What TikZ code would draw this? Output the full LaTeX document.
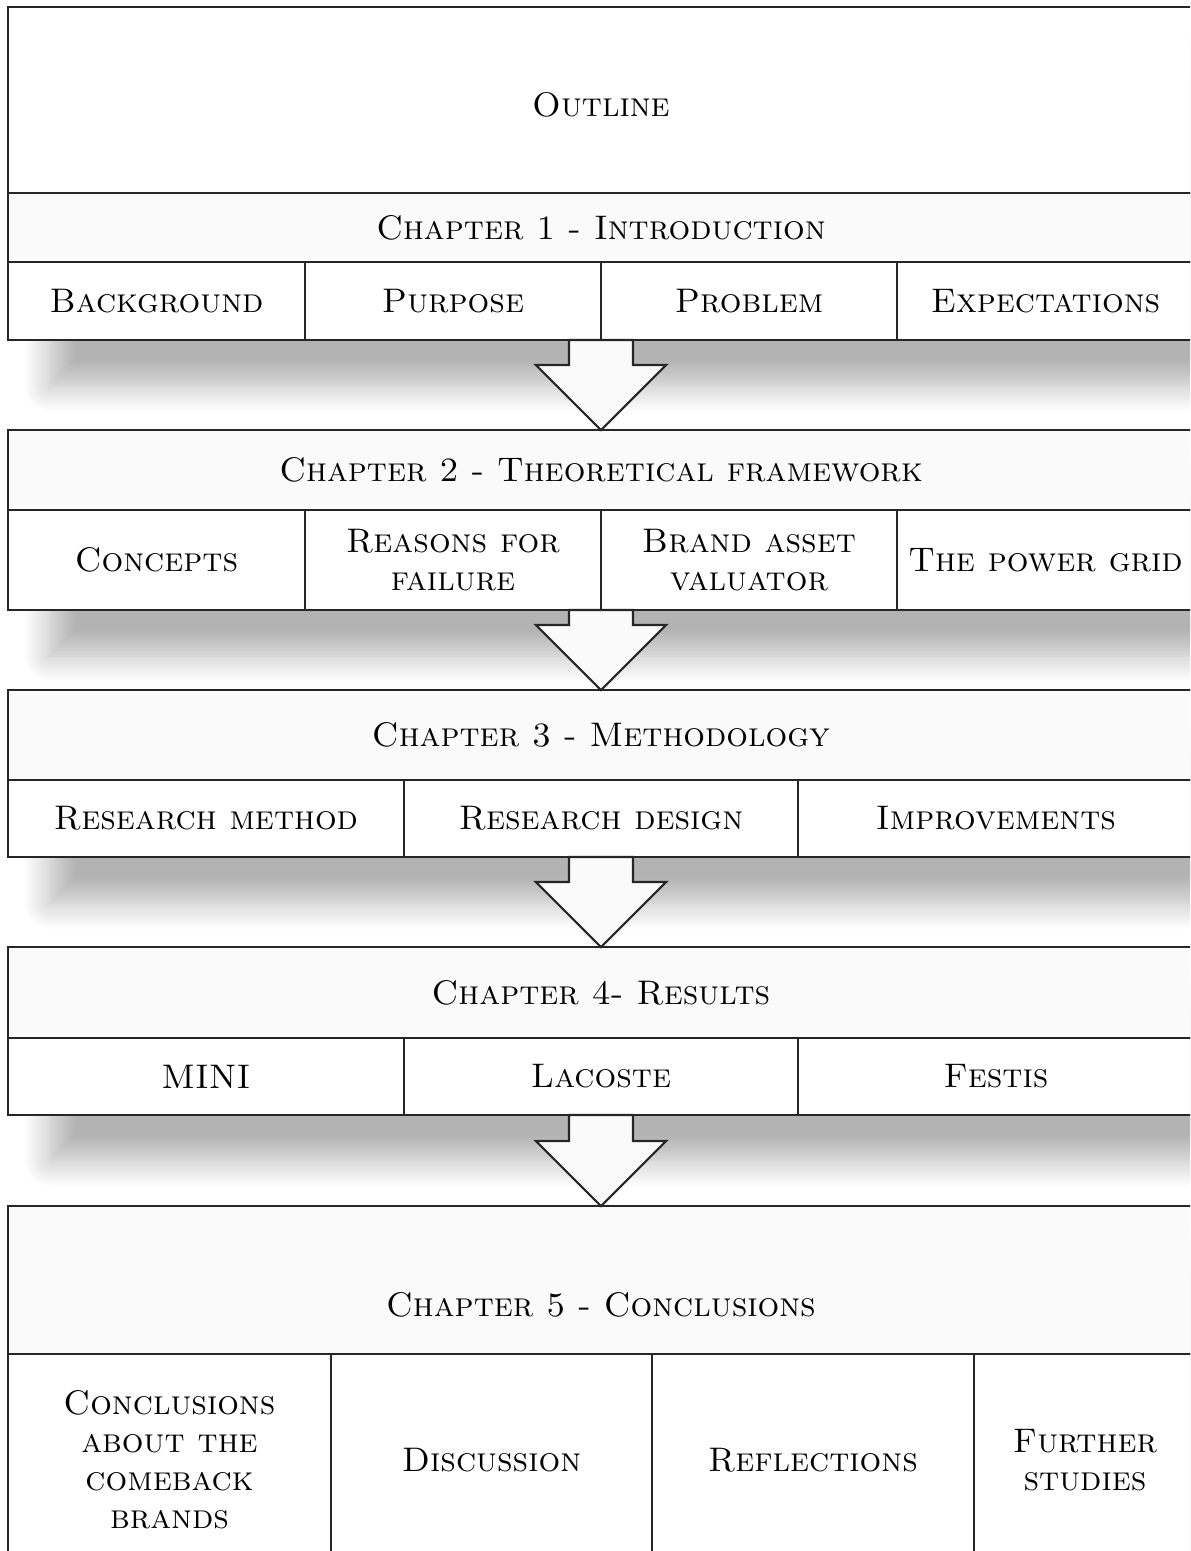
\documentclass[tikz,border=0pt]{standalone}
\usepackage{tikz}
\usetikzlibrary{calc,shadows.blur}
\tikzset{
    box/.style={rectangle,draw=black!85,line width=0.6pt,anchor=north west,inner sep=0pt,outer sep=0pt,align=center,font=\fontsize{9.7}{10.8}\selectfont\scshape},
    titlebox/.style={box,fill=white,minimum width=118.6mm},
    chapterbox/.style={box,fill=black!2,minimum width=118.6mm},
    topicbox/.style={box,fill=white},
    flowarrow/.style={draw=black!85,line width=0.6pt,fill=black!2,line join=miter},
    blockshadow/.style={fill=white,blur shadow={shadow xshift=4.2mm,shadow yshift=-4.6mm,shadow blur radius=2.6mm,shadow blur steps=12,shadow opacity=30}},
}

\begin{document}
\begin{tikzpicture}[x=0.1mm,y=-0.1mm]
	\path[use as bounding box] (0,0) rectangle (1190,1551);
	\clip (0,0) rectangle (1190,1551);

	% chapter 1
	\path[blockshadow] (8,7) rectangle (1194,340);
	\node[titlebox,minimum height=18.6mm,text height=3.3mm] (outline) at (8,7) {Outline};
	\node[chapterbox,minimum height=6.9mm] (ch1) at (8,193) {Chapter 1 - Introduction};
	\node[topicbox,minimum width=29.7mm,minimum height=7.8mm] (background) at (8,262) {Background};
	\node[topicbox,minimum width=29.6mm,minimum height=7.8mm] (purpose) at (305,262) {Purpose};
	\node[topicbox,minimum width=29.6mm,minimum height=7.8mm] (problem) at (601,262) {Problem};
	\node[topicbox,minimum width=29.7mm,minimum height=7.8mm] (expectations) at (897,262) {Expectations};

	% chapter 2
	\path[blockshadow] (8,430) rectangle (1194,610);
	\node[chapterbox,minimum height=8mm] (ch2) at (8,430) {Chapter 2 - Theoretical framework};
	\node[topicbox,minimum width=29.7mm,minimum height=10mm] (concepts) at (8,510) {Concepts};
	\node[topicbox,minimum width=29.6mm,minimum height=10mm] (reasons) at (305,510) {Reasons for\\failure};
	\node[topicbox,minimum width=29.6mm,minimum height=10mm] (bav) at (601,510) {Brand asset\\valuator};
	\node[topicbox,minimum width=29.7mm,minimum height=10mm] (powergrid) at (897,510) {The power grid};

	% chapter 3
	\path[blockshadow] (8,690) rectangle (1194,857);
	\node[chapterbox,minimum height=9mm] (ch3) at (8,690) {Chapter 3 - Methodology};
	\node[topicbox,minimum width=39.6mm,minimum height=7.7mm] (method) at (8,780) {Research method};
	\node[topicbox,minimum width=39.4mm,minimum height=7.7mm] (design) at (404,780) {Research design};
	\node[topicbox,minimum width=39.6mm,minimum height=7.7mm] (improvements) at (798,780) {Improvements};

	% chapter 4
	\path[blockshadow] (8,947) rectangle (1194,1115);
	\node[chapterbox,minimum height=9.1mm] (ch4) at (8,947) {Chapter 4- Results};
	\node[topicbox,minimum width=39.6mm,minimum height=7.7mm] (mini) at (8,1038) {MINI};
	\node[topicbox,minimum width=39.4mm,minimum height=7.7mm] (lacoste) at (404,1038) {Lacoste};
	\node[topicbox,minimum width=39.6mm,minimum height=7.7mm] (festis) at (798,1038) {Festis};

	% chapter 5
	\path[blockshadow] (8,1206) rectangle (1194,1566);
	\node[chapterbox,minimum height=14.8mm,text height=7.4mm] (ch5) at (8,1206) {Chapter 5 - Conclusions};
	\node[topicbox,minimum width=32.3mm,minimum height=21.2mm] (comeback) at (8,1354) {Conclusions\\about the\\comeback\\brands};
	\node[topicbox,minimum width=32.1mm,minimum height=21.2mm] (discussion) at (331,1354) {Discussion};
	\node[topicbox,minimum width=32.2mm,minimum height=21.2mm] (reflections) at (652,1354) {Reflections};
	\node[topicbox,minimum width=22.2mm,minimum height=21.2mm] (further) at (974,1354) {Further\\studies};

	% arrows between chapters
	\draw[flowarrow] ($(purpose.south east)+(-32,0)$) -- ($(ch2.north)+(-32,-65)$) -- ($(ch2.north)+(-65,-65)$)
		-- (ch2.north) -- ($(ch2.north)+(65,-65)$) -- ($(ch2.north)+(32,-65)$) -- ($(purpose.south east)+(32,0)$) -- cycle;
	\draw[flowarrow] ($(reasons.south east)+(-32,0)$) -- ($(ch3.north)+(-32,-65)$) -- ($(ch3.north)+(-65,-65)$)
		-- (ch3.north) -- ($(ch3.north)+(65,-65)$) -- ($(ch3.north)+(32,-65)$) -- ($(reasons.south east)+(32,0)$) -- cycle;
	\draw[flowarrow] ($(design.south)+(-32,0)$) -- ($(ch4.north)+(-32,-65)$) -- ($(ch4.north)+(-65,-65)$)
		-- (ch4.north) -- ($(ch4.north)+(65,-65)$) -- ($(ch4.north)+(32,-65)$) -- ($(design.south)+(32,0)$) -- cycle;
	\draw[flowarrow] ($(lacoste.south)+(-32,0)$) -- ($(ch5.north)+(-32,-65)$) -- ($(ch5.north)+(-65,-65)$)
		-- (ch5.north) -- ($(ch5.north)+(65,-65)$) -- ($(ch5.north)+(32,-65)$) -- ($(lacoste.south)+(32,0)$) -- cycle;
\end{tikzpicture}
\end{document}
